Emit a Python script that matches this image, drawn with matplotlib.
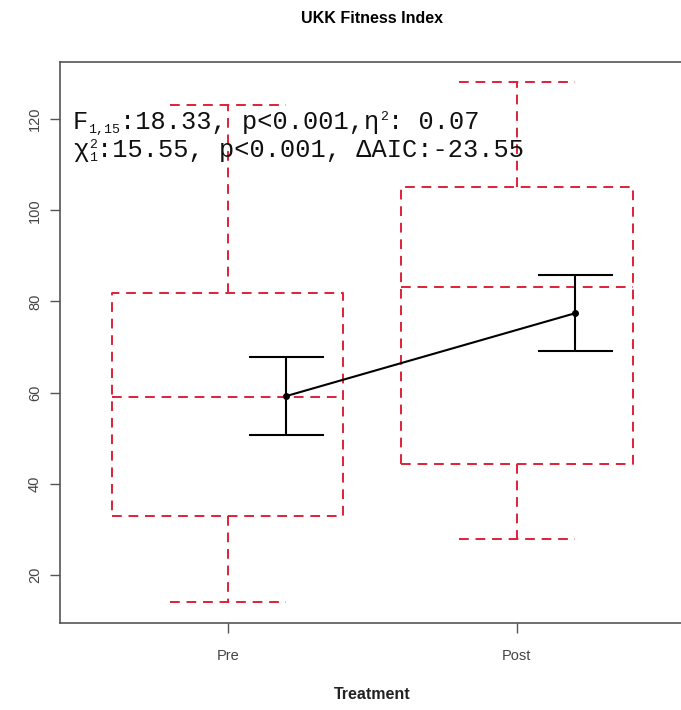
import matplotlib
matplotlib.use("Agg")
import matplotlib.pyplot as plt

# ---- data ----
categories = ["Pre", "Post"]
whisker_low = [14.0, 27.9]
q1 = [33.0, 44.4]
median = [59.1, 83.1]
q3 = [81.8, 105.1]
whisker_high = [123.1, 128.1]

mean_vals = [59.2, 77.4]
err_low = [50.8, 69.1]
err_high = [67.9, 85.9]

yticks = [20, 40, 60, 80, 100, 120]
title = "UKK Fitness Index"
xlabel = "Treatment"
# annotation lines as (text, kind) segments: kind in {"n", "sub", "sup", "supsub"}
line1 = [("F", "n"), ("1,15", "sub"), (":18.33, p<0.001,η", "n"), ("2", "sup"), (": 0.07", "n")]
line2 = [("χ", "n"), (("2", "1"), "supsub"), (":15.55, p<0.001, ΔAIC:-23.55", "n")]

plt.rcParams["font.family"] = ["Liberation Sans", "DejaVu Sans"]

fig = plt.figure(figsize=(6.81, 7.10), dpi=100)
ax = fig.add_axes([60/681, 87/710, 624.6/681, 561/710])

red = "#e0203a"
positions = [1, 2]
stats = []
for i, c in enumerate(categories):
    stats.append(dict(label=c, whislo=whisker_low[i], q1=q1[i], med=median[i],
                      q3=q3[i], whishi=whisker_high[i], fliers=[]))
ls = (0, (5, 3.5))
ax.bxp(stats, positions=positions, widths=0.8, showfliers=False,
       boxprops=dict(color=red, linestyle=ls, linewidth=1.4),
       whiskerprops=dict(color=red, linestyle=ls, linewidth=1.4),
       capprops=dict(color=red, linestyle=ls, linewidth=1.4),
       medianprops=dict(color=red, linestyle=ls, linewidth=1.4),
       capwidths=0.4)

# means with error bars
mx = [p + 0.2 for p in positions]
yerr = [[m - l for m, l in zip(mean_vals, err_low)],
        [h - m for m, h in zip(mean_vals, err_high)]]
ax.errorbar(mx, mean_vals, yerr=yerr, color="black", linewidth=1.5,
            capsize=27, capthick=1.5, marker="o", markersize=4, zorder=5)

ax.set_xlim(0.42, 2.58)
ax.set_ylim(9.44, 132.56)
ax.set_xticks(positions)
ax.set_xticklabels(categories)
ax.set_yticks(yticks)
ax.set_yticklabels([str(t) for t in yticks], rotation=90, va="center")
ax.tick_params(axis="both", direction="out", length=7, width=1,
               color="#555555", labelcolor="#444444", labelsize=10.5)
ax.tick_params(axis="y", pad=6)
ax.tick_params(axis="x", pad=12)
for s in ax.spines.values():
    s.set_color("#555555")
    s.set_linewidth(1.2)

ax.set_title(title, fontsize=11.5, fontweight="bold", pad=28)
ax.set_xlabel(xlabel, fontsize=11.5, fontweight="bold", labelpad=17, color="#222222")

# monospaced annotation with small scripts
FS = 18.3
SS = 9.5
ADV = 0.6
mono = ["Liberation Mono", "DejaVu Sans Mono"]


def draw_line(segs, xfrac, yfrac):
    dx = 0.0
    for seg, kind in segs:
        kw = dict(xy=(xfrac, yfrac), xycoords="axes fraction",
                  textcoords="offset points", ha="left", va="baseline",
                  family=mono, color="#111111")
        if kind == "n":
            ax.annotate(seg, xytext=(dx, 0), fontsize=FS, **kw)
            dx += len(seg) * ADV * FS
        elif kind == "sub":
            ax.annotate(seg, xytext=(dx, -2.5), fontsize=SS, **kw)
            dx += len(seg) * ADV * SS
        elif kind == "sup":
            ax.annotate(seg, xytext=(dx + 0.5, 6.5), fontsize=SS, **kw)
            dx += len(seg) * ADV * SS + 0.5
        else:
            sup, sub = seg
            ax.annotate(sup, xytext=(dx + 0.5, 6.5), fontsize=SS, **kw)
            ax.annotate(sub, xytext=(dx + 0.5, -2.5), fontsize=SS, **kw)
            dx += max(len(sup), len(sub)) * ADV * SS + 0.5


draw_line(line1, 13/624.6, 0.880)
draw_line(line2, 13/624.6, 0.830)

fig.savefig("out.png", dpi=100)
